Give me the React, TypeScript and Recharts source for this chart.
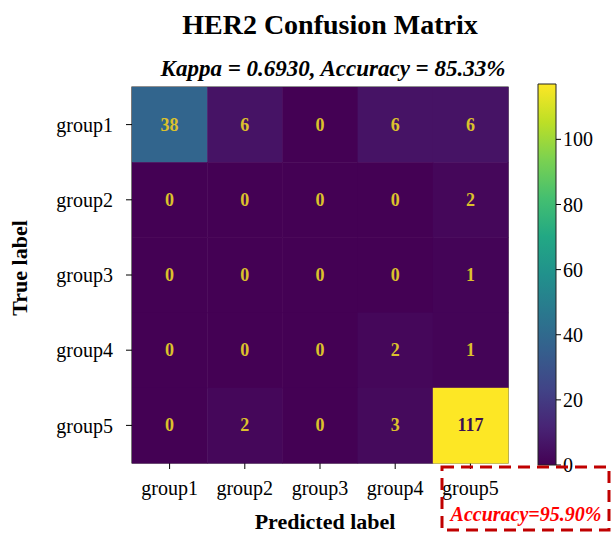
import { Bar, BarChart, ReferenceArea, Scatter, ScatterChart, XAxis, YAxis } from "recharts";

const predLabels = ["group1", "group2", "group3", "group4", "group5"];
const trueLabels = ["group1", "group2", "group3", "group4", "group5"];
const row1 = [38, 6, 0, 6, 6];
const row2 = [0, 0, 0, 0, 2];
const row3 = [0, 0, 0, 0, 1];
const row4 = [0, 0, 0, 2, 1];
const row5 = [0, 2, 0, 3, 117];
const colorTicks = [0, 20, 40, 60, 80, 100];

const matrix = [row1, row2, row3, row4, row5];
const vmax = Math.max(...matrix.flat());
const cells = matrix.flatMap((r, i) => r.map((v, j) => ({ x: j, y: i, v })));

const viridis = ["#440154", "#482475", "#414487", "#355f8d", "#2a788e", "#21918c", "#22a884", "#44bf70", "#7ad151", "#bddf26", "#fde725"];

function hex(c: string) {
  return [1, 3, 5].map((k) => parseInt(c.slice(k, k + 2), 16));
}

function cmap(t: number) {
  const s = Math.min(Math.max(t, 0), 1) * 10;
  const i = Math.min(Math.floor(s), 9);
  const f = s - i;
  const a = hex(viridis[i]);
  const b = hex(viridis[i + 1]);
  const m = a.map((x, k) => Math.round(x + (b[k] - x) * f));
  return `rgb(${m[0]},${m[1]},${m[2]})`;
}

const W = 616;
const H = 536;
const PL = 132, PR = 508, PT = 87, PB = 463;
const CW = (PR - PL) / 5;
const CH = (PB - PT) / 5;
const serif = "'Liberation Serif', 'Times New Roman', serif";

function CellShape(props: any) {
  const { cx, cy, payload } = props;
  const light = payload.v < vmax / 2;
  return (
    <g>
      <rect x={cx - CW / 2} y={cy - CH / 2} width={CW + 0.5} height={CH + 0.5} fill={cmap(payload.v / vmax)} />
      <text x={cx} y={cy + 6} textAnchor="middle" fontFamily={serif} fontWeight="bold" fontSize={18} fill={light ? "#dcc12c" : "#3b0f52"}>
        {payload.v}
      </text>
    </g>
  );
}

export default function App() {
  return (
    <div style={{ position: "absolute", left: 0, top: 0, width: W, height: H, background: "#fff", fontFamily: serif }}>
      <div style={{ position: "absolute", left: 0, top: 0 }}>
        <ScatterChart width={W} height={H} margin={{ top: PT, right: W - PR, bottom: H - PB - 40, left: PL - 80 }}>
          <XAxis
            type="number"
            dataKey="x"
            domain={[-0.5, 4.5]}
            ticks={[0, 1, 2, 3, 4]}
            tickFormatter={(i: number) => predLabels[i]}
            axisLine={false}
            tickLine={{ stroke: "#000" }}
            tickSize={6}
            tickMargin={12}
            height={40}
            tick={{ fontSize: 20, fill: "#000", fontFamily: serif }}
          />
          <YAxis
            type="number"
            dataKey="y"
            domain={[-0.5, 4.5]}
            reversed
            ticks={[0, 1, 2, 3, 4]}
            tickFormatter={(i: number) => trueLabels[i]}
            axisLine={false}
            tickLine={{ stroke: "#000" }}
            tickSize={6}
            tickMargin={13}
            width={80}
            tick={{ fontSize: 20, fill: "#000", fontFamily: serif }}
          />
          <Scatter data={cells} shape={CellShape} isAnimationActive={false} />
          <ReferenceArea x1={-0.5} x2={4.5} y1={-0.5} y2={4.5} fill="none" stroke="#222" strokeWidth={1.2} ifOverflow="visible" />
        </ScatterChart>
      </div>
      <div style={{ position: "absolute", left: 0, top: 0 }}>
        <BarChart width={W} height={H} data={[{ name: "cb", v: vmax }]} margin={{ top: 84, right: W - 556 - 50, bottom: H - 465, left: 538 }} barCategoryGap={0}>
          <defs>
            <linearGradient id="vir" x1="0" y1="1" x2="0" y2="0">
              {viridis.map((c, i) => (
                <stop key={i} offset={`${i * 10}%`} stopColor={c} />
              ))}
            </linearGradient>
          </defs>
          <XAxis dataKey="name" hide />
          <YAxis
            orientation="right"
            domain={[0, vmax]}
            ticks={colorTicks}
            axisLine={false}
            tickLine={{ stroke: "#000" }}
            tickSize={5}
            width={50}
            tick={{ fontSize: 20, fill: "#000", fontFamily: serif }}
          />
          <Bar dataKey="v" fill="url(#vir)" stroke="#222" strokeWidth={1} isAnimationActive={false} />
        </BarChart>
      </div>
      <svg width={W} height={H} style={{ position: "absolute", left: 0, top: 0, pointerEvents: "none" }}>
        <text x={330} y={34} textAnchor="middle" fontFamily={serif} fontWeight="bold" fontSize={28}>
          HER2 Confusion Matrix
        </text>
        <text x={333} y={76} textAnchor="middle" fontFamily={serif} fontWeight="bold" fontStyle="italic" fontSize={23}>
          Kappa = 0.6930, Accuracy = 85.33%
        </text>
        <text x={325} y={529} textAnchor="middle" fontFamily={serif} fontWeight="bold" fontSize={22}>
          Predicted label
        </text>
        <text transform="translate(27,268) rotate(-90)" textAnchor="middle" fontFamily={serif} fontWeight="bold" fontSize={22}>
          True label
        </text>
        <rect x={442} y={467} width={167} height={63} fill="none" stroke="#c00000" strokeWidth={3} strokeDasharray="12 7" />
        <text x={526} y={521} textAnchor="middle" fontFamily={serif} fontWeight="bold" fontStyle="italic" fontSize={20} fill="#ff0000">
          Accuracy=95.90%
        </text>
      </svg>
    </div>
  );
}
